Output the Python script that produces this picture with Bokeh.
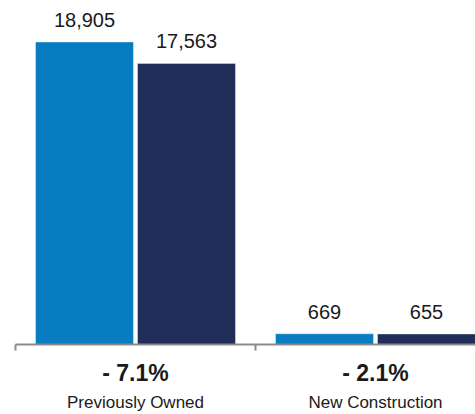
from bokeh.plotting import figure
from bokeh.models import ColumnDataSource, Range1d, FixedTicker, LabelSet, LinearAxis
from bokeh.transform import dodge
from bokeh.core.properties import value
from bokeh.embed import file_html
from bokeh.resources import INLINE

# ---- data ----
categories = ["Previously Owned", "New Construction"]
prior_year = [18905, 669]
current_year = [17563, 655]
pct_change = ["- 7.1%", "- 2.1%"]

LIGHT = "#087cc1"
DARK = "#202d58"
TEXT = "#1a1a1a"
AXIS = "#8a8a8a"
FONT = "Liberation Sans"

n = len(categories)
centers = [i + 0.5 for i in range(n)]
bounds = [float(i) for i in range(n + 1)]

src = ColumnDataSource(dict(
    x=centers,
    prior=prior_year,
    current=current_year,
    prior_lbl=[f"{v:,}" for v in prior_year],
    current_lbl=[f"{v:,}" for v in current_year],
))

p = figure(frame_width=460, frame_height=344, output_backend="svg", toolbar_location=None,
           x_range=Range1d(0, 460 / 240), y_range=Range1d(0, 21500))
p.min_border_left = 15
p.min_border_right = 0
p.min_border_top = 0
p.min_border_bottom = 0
p.outline_line_color = None
p.xgrid.visible = False
p.ygrid.visible = False
p.yaxis.visible = False

BW = 0.408
OFF = 0.2125
p.vbar(x=dodge("x", -OFF), top="prior", width=BW, source=src,
       fill_color=LIGHT, line_color="white", line_alpha=0.35, line_width=1)
p.vbar(x=dodge("x", OFF), top="current", width=BW, source=src,
       fill_color=DARK, line_color="white", line_alpha=0.35, line_width=1)

# main axis: line + boundary ticks, no labels
ax = p.xaxis[0]
ax.ticker = FixedTicker(ticks=bounds)
ax.major_label_overrides = {b: "" for b in bounds}
ax.major_label_text_font_size = "0px"
ax.major_label_standoff = 0
ax.axis_line_color = AXIS
ax.axis_line_width = 2
ax.major_tick_line_color = AXIS
ax.major_tick_line_width = 2
ax.major_tick_in = 0
ax.major_tick_out = 6
ax.minor_tick_line_color = None

# percent change labels and category names
ax_pct = LinearAxis(ticker=FixedTicker(ticks=centers),
                    major_label_overrides={c: t for c, t in zip(centers, pct_change)})
ax_cat = LinearAxis(ticker=FixedTicker(ticks=centers),
                    major_label_overrides={c: t for c, t in zip(centers, categories)})
for a in (ax_pct, ax_cat):
    a.axis_line_color = None
    a.major_tick_line_color = None
    a.minor_tick_line_color = None
    a.major_tick_in = 0
    a.major_tick_out = 0
    a.minor_tick_in = 0
    a.minor_tick_out = 0
    a.major_label_text_font = FONT
    a.major_label_text_color = TEXT
ax_pct.major_label_text_font_size = "23px"
ax_pct.major_label_text_font_style = "bold"
ax_pct.major_label_standoff = 9
ax_cat.major_label_text_font_size = "17px"
ax_cat.major_label_standoff = 4
p.add_layout(ax_pct, "below")
p.add_layout(ax_cat, "below")

common = dict(source=src, text_align="center", text_baseline="alphabetic",
              text_color=TEXT, text_font=value(FONT), text_font_size=value("20px"))
p.add_layout(LabelSet(x=dodge("x", -OFF), y="prior", text="prior_lbl", y_offset=15, **common))
p.add_layout(LabelSet(x=dodge("x", OFF), y="current", text="current_lbl", y_offset=15, **common))

open("out.html", "w").write(file_html(p, INLINE))
